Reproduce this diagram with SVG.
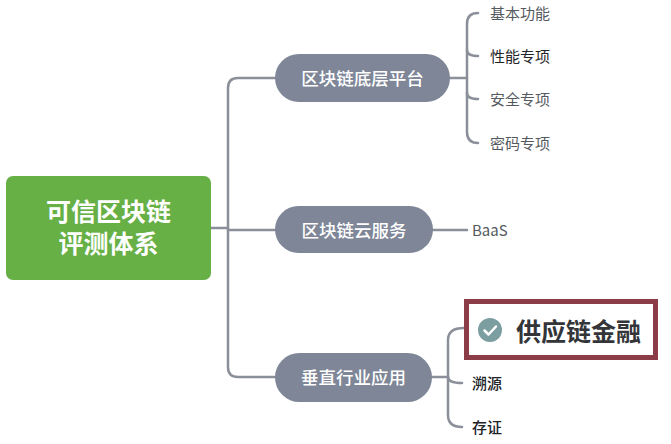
<svg xmlns="http://www.w3.org/2000/svg" width="671" height="444" viewBox="0 0 671 444">
<style>
.ln{fill:none;stroke:#8a8f99;stroke-width:2.5;stroke-linecap:round;stroke-linejoin:round}
.pill{fill:#7e8697}
.pt{fill:#ffffff;font-family:"Noto Sans CJK SC","Noto Sans",sans-serif;font-size:17.5px;font-weight:500;text-anchor:middle;dominant-baseline:central}
.leaf{fill:#555a60;font-family:"Noto Sans CJK SC","Noto Sans",sans-serif;font-size:15px;dominant-baseline:central}
.dark{fill:#222428}
.rt{fill:#ffffff;font-family:"Liberation Sans","Noto Sans CJK SC",sans-serif;font-size:25px;font-weight:700;text-anchor:middle;dominant-baseline:central}
</style>
<rect width="671" height="444" fill="#ffffff"/>
<g id="connectors">
<path class="ln" d="M211,228 H228"/>
<path class="ln" d="M275,78 H238 Q228,78 228,88 V367 Q228,377 238,377 H275"/>
<path class="ln" d="M228,230 H275"/>
<path class="ln" d="M450,78 H467"/>
<path class="ln" d="M478,13 Q467,13 467,24 V132 Q467,143 478,143"/>
<path class="ln" d="M467,50 Q467,56 478,56"/>
<path class="ln" d="M467,93 Q467,99 478,99"/>
<path class="ln" d="M433,230 H467"/>
<path class="ln" d="M432,377 H448"/>
<path class="ln" d="M464,328 Q448,328 448,340 V415 Q448,427 462,427"/>
<path class="ln" d="M448,377 Q448,383 462,383"/>
</g>
<g id="root">
<rect x="6" y="176" width="205" height="104" rx="7" fill="#67b046"/>
<text class="rt" lang="zh-CN" x="108.5" y="212">可信区块链</text>
<text class="rt" lang="zh-CN" x="108.5" y="244">评测体系</text>
</g>
<g id="node-platform">
<rect class="pill" x="275" y="54" width="175" height="48" rx="24"/>
<text class="pt" x="362.5" y="77.5">区块链底层平台</text>
</g>
<g id="node-cloud">
<rect class="pill" x="275" y="206" width="158" height="47" rx="23.5"/>
<text class="pt" x="354" y="229.5">区块链云服务</text>
</g>
<g id="node-industry">
<rect class="pill" x="275" y="353" width="157" height="49" rx="24.5"/>
<text class="pt" x="353.5" y="376.5">垂直行业应用</text>
</g>
<g id="leaf-basic"><text class="leaf" x="490" y="12">基本功能</text></g>
<g id="leaf-perf"><text class="leaf dark" x="490" y="55">性能专项</text></g>
<g id="leaf-sec"><text class="leaf" x="490" y="98">安全专项</text></g>
<g id="leaf-crypto"><text class="leaf" x="490" y="142">密码专项</text></g>
<g id="leaf-baas"><text class="leaf" x="472" y="229" font-family="Noto Sans, sans-serif">BaaS</text></g>
<g id="leaf-scf">
<rect x="466.5" y="301.5" width="189" height="56" fill="#ffffff" stroke="#8b3c47" stroke-width="5"/>
<circle cx="490" cy="330" r="12" fill="#7d9ea1"/>
<path d="M484.5,330.5 L488.5,334.5 L496,326.5" fill="none" stroke="#ffffff" stroke-width="2.5" stroke-linecap="round" stroke-linejoin="round"/>
<text x="516" y="329.5" fill="#333539" font-family="Noto Sans CJK SC, Noto Sans, sans-serif" font-size="25" font-weight="700" dominant-baseline="central">供应链金融</text>
</g>
<g id="leaf-trace"><text class="leaf dark" x="472" y="382" font-weight="500">溯源</text></g>
<g id="leaf-cert"><text class="leaf dark" x="472" y="426" font-weight="500">存证</text></g>
</svg>
